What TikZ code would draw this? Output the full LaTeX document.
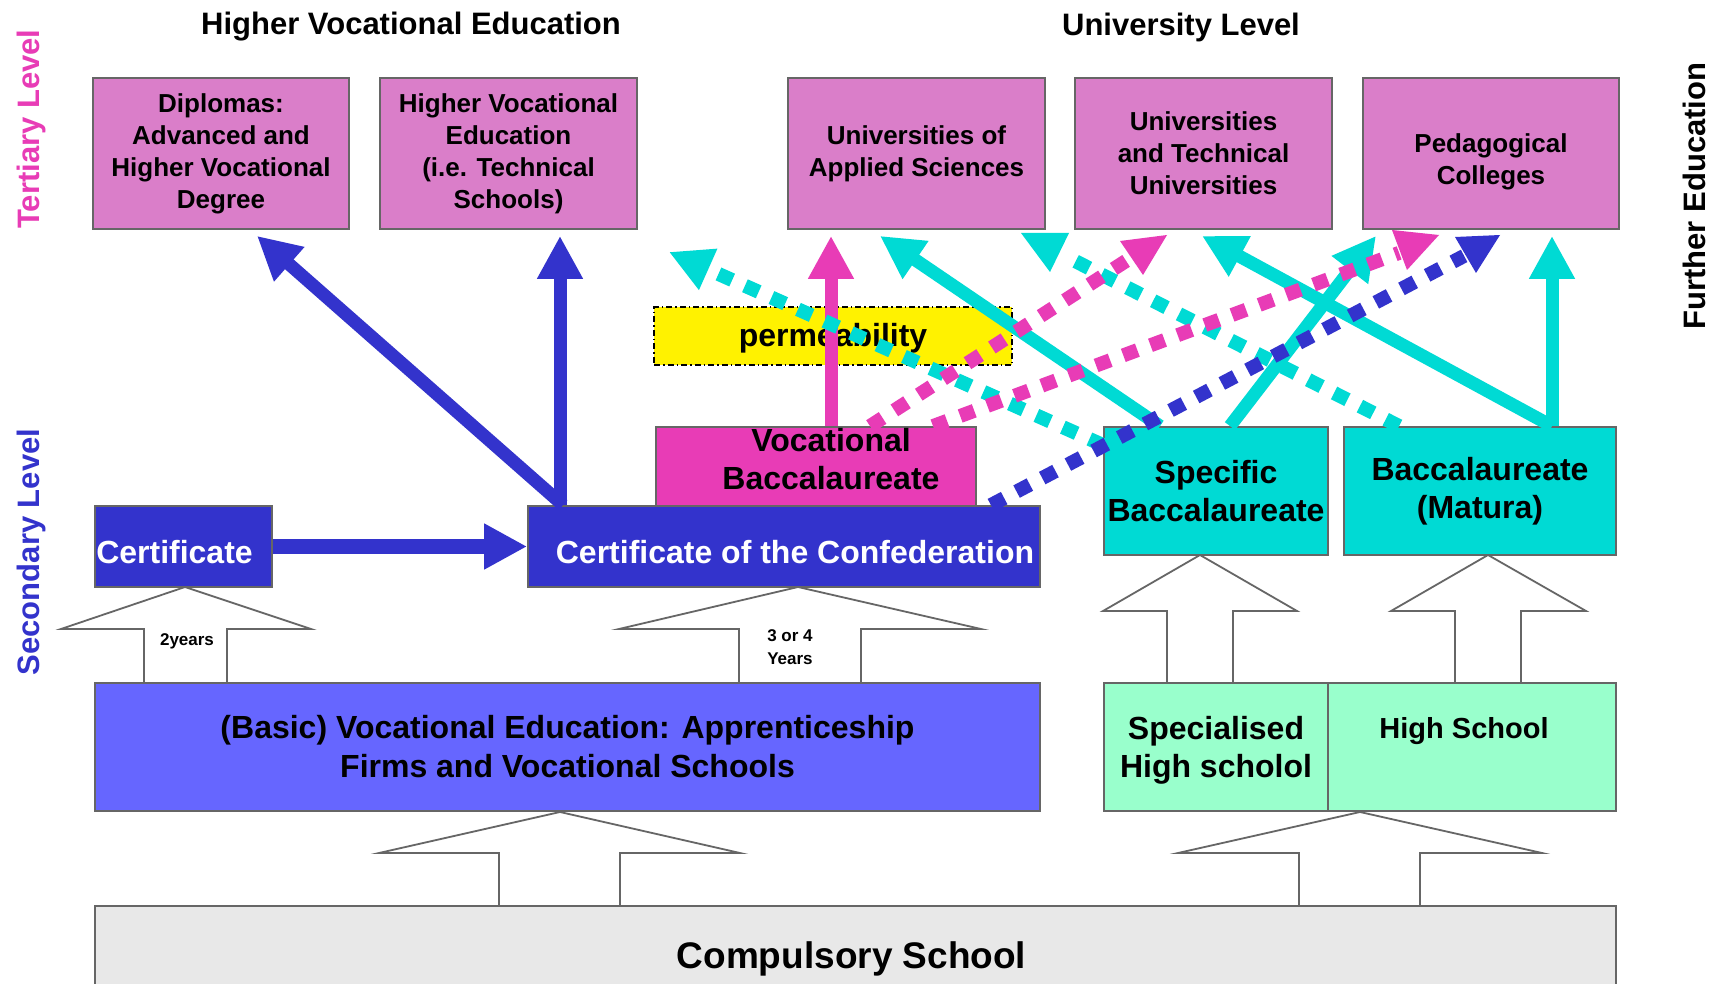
\documentclass[tikz,border=0pt]{standalone}
\usepackage{fontspec}
\setmainfont{Liberation Sans}
\usetikzlibrary{arrows.meta}
\definecolor{tert}{RGB}{218,126,201}
\definecolor{mag}{RGB}{232,60,182}
\definecolor{blu}{RGB}{51,51,204}
\definecolor{cya}{RGB}{0,218,212}
\definecolor{voc}{RGB}{102,102,255}
\definecolor{mint}{RGB}{153,255,204}
\definecolor{compgray}{RGB}{232,232,232}
\definecolor{bord}{RGB}{102,102,102}
\newcommand\lowertext[2]{\raisebox{#1}[\height][\depth]{\begin{tabular}{@{}c@{}}#2\end{tabular}}}
\begin{document}
\begin{tikzpicture}[x=1pt,y=-1pt,
  box/.style={draw=bord,line width=1.8pt,inner sep=0pt,align=center,text=black},
  tbox/.style={box,fill=tert,minimum width=256pt,minimum height=151pt,font=\bfseries\fontsize{26}{32}\selectfont},
  big/.style={font=\bfseries\fontsize{32}{38}\selectfont},
  blockarrow/.style={draw=bord,fill=white,line width=1.8pt},
  solidarr/.style={line width=13pt,-{Triangle[length=43pt,width=43pt]}},
  dasharr/.style={line width=14pt,dash pattern=on 15pt off 14pt},
  sidelabel/.style={rotate=90,font=\bfseries\fontsize{31}{36}\selectfont},
  headline/.style={font=\bfseries\fontsize{31}{36}\selectfont},
  smalltxt/.style={font=\bfseries\fontsize{17}{23}\selectfont,align=center},
]
\useasboundingbox (0,0) rectangle (1715,984);
\fill[white] (0,0) rectangle (1715,984);

% headings and side labels
\node[headline] (h1) at (411,27) {Higher Vocational Education};
\node[headline] (h2) at (1181,27) {University Level};
\node[sidelabel,text=mag] (tl) at (31,129) {Tertiary Level};
\node[sidelabel,text=blu] (sl) at (31,552) {Secondary Level};
\node[sidelabel] (fe) at (1694,196) {Further Education};

% block arrows
\draw[blockarrow] (144,683) -- (144,629) -- (61,629) -- (185,587) -- (311,629) -- (227,629) -- (227,683);
\draw[blockarrow] (739,683) -- (739,629) -- (619,629) -- (798,587) -- (981,629) -- (861,629) -- (861,683);
\draw[blockarrow] (499,906) -- (499,853) -- (379,853) -- (560,812) -- (740,853) -- (620,853) -- (620,906);
\draw[blockarrow] (1167,682) -- (1167,611) -- (1103,611) -- (1200,555) -- (1297,611) -- (1233,611) -- (1233,682);
\draw[blockarrow] (1455,682) -- (1455,611) -- (1391,611) -- (1488,555) -- (1586,611) -- (1521,611) -- (1521,682);
\draw[blockarrow] (1299,906) -- (1299,853) -- (1178,853) -- (1360,812) -- (1542,853) -- (1420,853) -- (1420,906);
\node[smalltxt] (two) at (187,641) {2years};
\node[smalltxt] (three) at (790,647) {3 or 4\\Years};

% tertiary boxes
\node[tbox] (dip) at (221,153.5) {Diplomas:\\Advanced and\\Higher Vocational\\Degree};
\node[tbox,minimum width=257pt] (hve) at (508.5,153.5) {Higher Vocational\\Education\\(i.e. Technical\\Schools)};
\node[tbox,minimum width=257pt] (uas) at (916.5,153.5) {Universities of\\Applied Sciences};
\node[tbox,minimum width=257pt] (utu) at (1203.5,153.5) {Universities\\and Technical\\Universities};
\node[tbox] (ped) at (1491,153.5) {\lowertext{-9pt}{Pedagogical\\Colleges}};

% permeability
\node[box,draw=black,line width=1.5pt,dash pattern=on 6pt off 3pt on 1.5pt off 3pt,fill=yellow,minimum width=358pt,minimum height=58pt,big] (perm) at (833,336) {\lowertext{-3pt}{permeability}};

% secondary
\node[box,fill=mag,minimum width=320pt,minimum height=79pt,big] (vb) at (816,466.5) {\lowertext{4pt}{Vocational\\Baccalaureate}\hspace*{-30pt}};
\node[box,fill=blu,text=white,minimum width=177pt,minimum height=81pt,big] (cert) at (183.5,546.5) {\hspace*{-18pt}\lowertext{-9pt}{Certificate}};
\node[box,fill=blu,text=white,minimum width=512pt,minimum height=81pt,big] (conf) at (784,546.5) {\lowertext{-9pt}{Certificate of the Confederation}\hspace*{-22pt}};
\node[box,fill=cya,minimum width=224pt,minimum height=128pt,big] (spec) at (1216,491) {Specific\\Baccalaureate};
\node[box,fill=cya,minimum width=272pt,minimum height=128pt,big] (mat) at (1480,491) {Baccalaureate\\(Matura)};
\node[box,fill=voc,minimum width=945pt,minimum height=128pt,font=\bfseries\fontsize{32}{39}\selectfont] (basic) at (567.5,747) {(Basic) Vocational Education: Apprenticeship\\Firms and Vocational Schools};
\node[box,fill=mint,minimum width=224pt,minimum height=128pt,font=\bfseries\fontsize{32}{38.5}\selectfont] (shs) at (1216,747) {\lowertext{-4pt}{Specialised\\High scholol}};
\node[box,fill=mint,minimum width=288pt,minimum height=128pt,font=\bfseries\fontsize{29}{39}\selectfont] (hs) at (1472,747) {\hspace*{-16pt}\lowertext{16pt}{High School}};
\node[box,fill=compgray,minimum width=1521pt,minimum height=94pt,font=\bfseries\fontsize{37}{44}\selectfont] (comp) at (855.5,953) {\hspace*{-8pt}\lowertext{-7pt}{Compulsory School}};

% solid arrows
\draw[solidarr,blu] ([xshift=-221pt]conf.north) -- ([xshift=36pt,yshift=-6pt]dip.south);
\draw[solidarr,blu] ([xshift=-224pt]conf.north) -- ([xshift=51.5pt,yshift=-6pt]hve.south);
\draw[solidarr,blu,line width=15pt] (cert.east) -- (conf.west);
\draw[solidarr,mag] ([xshift=15pt]vb.north) -- ([xshift=-85.5pt,yshift=-6pt]uas.south);
\draw[solidarr,cya] ([xshift=-56pt]spec.north) -- ([xshift=-36.5pt,yshift=-6pt]uas.south);
\draw[solidarr,cya] ([xshift=14pt]spec.north) -- ([xshift=-115pt,yshift=-6pt]ped.south);
\draw[solidarr,cya] ([xshift=72pt]mat.north) -- ([xshift=-1.5pt,yshift=-6pt]utu.south);
\draw[solidarr,cya] ([xshift=72pt]mat.north) -- ([xshift=61pt,yshift=-6pt]ped.south);

% dashed arrows
\draw[dasharr,cya,-{Triangle[length=43pt,width=42pt]}] ([yshift=-19pt]spec.north west) -- ([xshift=31pt,yshift=-22pt]hve.south east);
\draw[dasharr,cya] ([xshift=56pt]mat.north west) -- ([xshift=25pt,yshift=-29pt]uas.south east);
\fill[cya] (1021,233) -- (1069,233) -- (1050,272) -- cycle;
\draw[dasharr,mag] ([xshift=54pt]vb.north) -- ([xshift=52pt,yshift=-31pt]utu.south west);
\fill[mag] (1120,241) -- (1167,235) -- (1143,275) -- cycle;
\draw[dasharr,mag] ([xshift=117pt]vb.north) -- ([xshift=37pt,yshift=-23pt]ped.south west);
\fill[mag] (1392,230) -- (1439,235) -- (1407,270) -- cycle;
\draw[dasharr,blu] ([xshift=-50pt]conf.north east) -- ([xshift=102pt,yshift=-26pt]ped.south west);
\fill[blu] (1455,237) -- (1500,235) -- (1476,273) -- cycle;
\end{tikzpicture}
\end{document}
